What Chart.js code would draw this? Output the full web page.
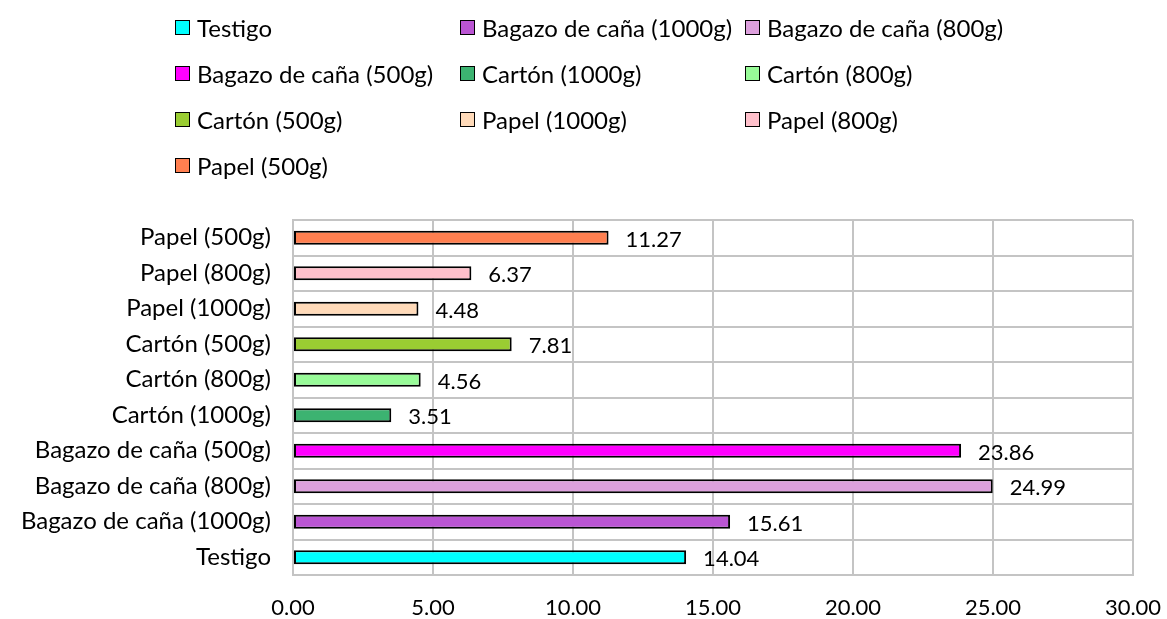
<!DOCTYPE html>
<html>
<head>
<meta charset="utf-8">
<script src="https://cdn.jsdelivr.net/npm/chart.js@4"></script>
<style>
  html, body { margin: 0; padding: 0; background: #fff; }
  #wrap { position: relative; width: 1167px; height: 619px; font-family: Lato, sans-serif; }
  #chart { position: absolute; left: 0; top: 0; }
  #legend { position: absolute; left: 0; top: 0; }
  .item { position: absolute; display: flex; align-items: center; font-size: 24px; color: #000; white-space: nowrap; }
  .box { width: 13px; height: 13px; border: 1.5px solid #000; margin-right: 7px; }
</style>
</head>
<body>
<div id="wrap">
  <canvas id="chart" width="1167" height="619"></canvas>
  <div id="legend"></div>
</div>
<script>
// categories, bottom to top as in the legend
const categories = [
  'Testigo',
  'Bagazo de caña (1000g)',
  'Bagazo de caña (800g)',
  'Bagazo de caña (500g)',
  'Cartón (1000g)',
  'Cartón (800g)',
  'Cartón (500g)',
  'Papel (1000g)',
  'Papel (800g)',
  'Papel (500g)'
];
const values = [14.04, 15.61, 24.99, 23.86, 3.51, 4.56, 7.81, 4.48, 6.37, 11.27];
const barColors = [
  '#00FFFF', '#BA55D3', '#DDA0DD', '#FF00FF', '#3CB371',
  '#98FB98', '#9ACD32', '#FFDAB9', '#FFC0CB', '#FF7F50'
];
const xTicks = [0, 5, 10, 15, 20, 25, 30];

const FONT = 'Lato, sans-serif';

/**
 * Draws the value next to the end of every bar
 */
const valueLabels = {
  id: 'valueLabels',
  afterDatasetsDraw(chart) {
    const ctx = chart.ctx;
    const meta = chart.getDatasetMeta(0);
    ctx.save();
    ctx.font = '22px ' + FONT;
    ctx.fillStyle = '#000';
    ctx.textAlign = 'left';
    ctx.textBaseline = 'middle';
    meta.data.forEach((bar, i) => {
      ctx.fillText(values[i].toFixed(2), bar.x + 17, bar.y + 2);
    });
    ctx.restore();
  }
};

function buildLegend() {
  const legend = document.getElementById('legend');
  const colX = [175, 460, 745];
  const rowY = [27, 73, 119, 165];
  categories.forEach((name, i) => {
    const item = document.createElement('div');
    item.className = 'item';
    item.style.left = colX[i % 3] + 'px';
    item.style.top = (rowY[Math.floor(i / 3)] - 15) + 'px';
    item.style.height = '30px';
    const box = document.createElement('span');
    box.className = 'box';
    box.style.background = barColors[i];
    item.appendChild(box);
    item.appendChild(document.createTextNode(name));
    legend.appendChild(item);
  });
}

function createChart() {
  const ctx = document.getElementById('chart').getContext('2d');
  return new Chart(ctx, {
    type: 'bar',
    data: {
      labels: categories,
      datasets: [{
        data: values,
        backgroundColor: barColors,
        borderColor: '#000',
        borderWidth: 2,
        borderSkipped: false,
        barPercentage: 0.4,
        categoryPercentage: 1
      }]
    },
    options: {
      indexAxis: 'y',
      responsive: false,
      animation: false,
      layout: { padding: { top: 220, right: 34, bottom: 0, left: 0 } },
      plugins: {
        legend: { display: false },
        tooltip: { enabled: false }
      },
      scales: {
        x: {
          min: 0,
          max: 30,
          afterBuildTicks(scale) {
            scale.ticks = xTicks.map(v => ({ value: v }));
          },
          afterFit(scale) {
            scale.height = 44;
            scale.paddingLeft = 0;
            scale.paddingRight = 0;
          },
          grid: { color: '#c4c4c4', lineWidth: 2, drawTicks: false },
          border: { color: '#c4c4c4', width: 2 },
          ticks: {
            padding: 20,
            color: '#000',
            font: { family: FONT, size: 22 },
            callback: v => Number(v).toFixed(2)
          }
        },
        y: {
          reverse: true,
          afterFit(scale) { scale.width = 293; },
          grid: { color: '#c4c4c4', lineWidth: 2, drawTicks: false },
          border: { color: '#c4c4c4', width: 2 },
          ticks: {
            padding: 22,
            color: '#000',
            font: { family: FONT, size: 24 }
          }
        }
      }
    },
    plugins: [valueLabels]
  });
}

document.addEventListener('DOMContentLoaded', () => {
  buildLegend();
  createChart();
});
</script>
</body>
</html>
